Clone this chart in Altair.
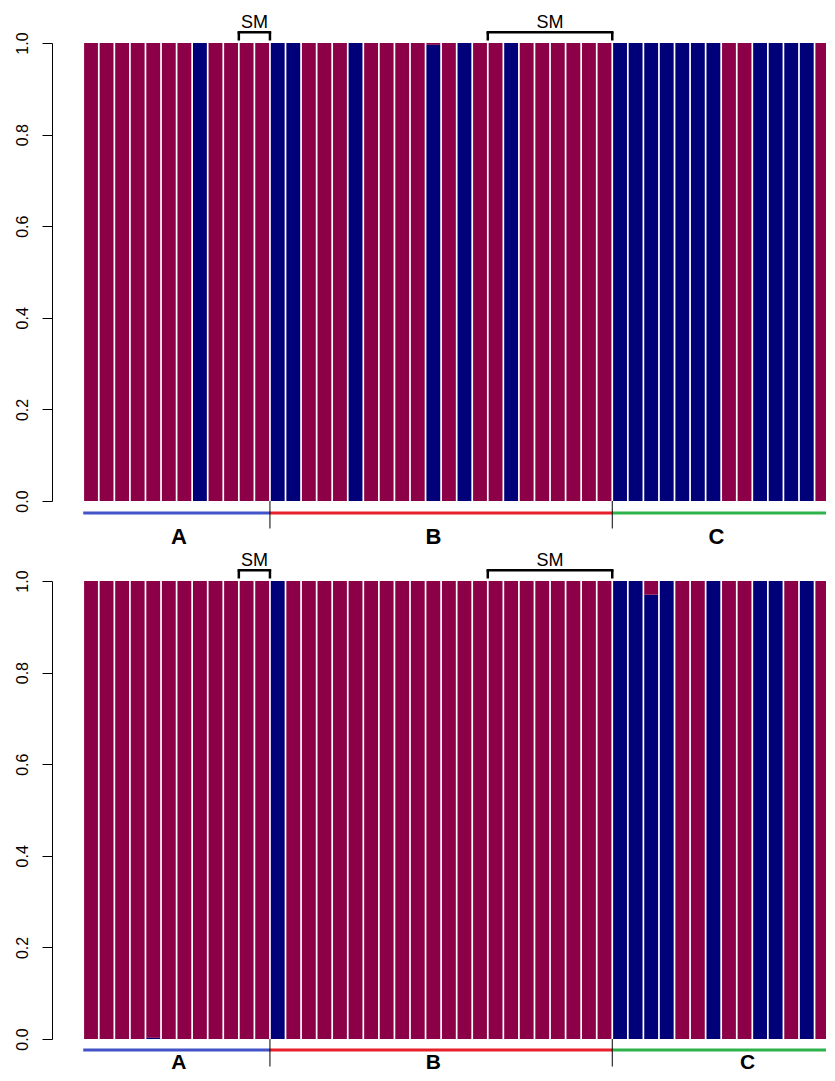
import altair as alt
import pandas as pd

# ---------------- data ----------------
# Fraction of the magenta cluster for each of the 49 visible samples (rest is navy)
top_magenta = [1, 1, 1, 1, 1, 1, 1, 0, 1, 1, 1, 1,                       # A (1-12)
               0, 0, 1, 1, 1, 0, 1, 1, 1, 1, 0.004, 1, 0, 1, 1, 0, 1, 1, 1, 1, 1, 1,  # B (13-34)
               0, 0, 0, 0, 0, 0, 0, 1, 1, 0, 0, 0, 0, 1, 1]              # C (35-49)
bottom_magenta = [1, 1, 1, 1, 0.997, 1, 1, 1, 1, 1, 1, 1,                 # A
                  0, 1, 1, 1, 1, 1, 1, 1, 1, 1, 1, 1, 1, 1, 1, 1, 1, 1, 1, 1, 1, 1,  # B
                  0, 0, 0.03, 0, 1, 1, 0, 1, 1, 0, 0, 1, 0, 1, 1]         # C

group_names = ["A", "B", "C"]
group_first = [1, 13, 35]
group_last = [12, 34, 49]
group_colors = ["#4353C8", "#E8202A", "#2DB34A"]
label_x_top = [6.65, 23.0, 41.2]
label_x_bottom = [6.65, 23.0, 43.2]

sm_first = [11, 27]
sm_last = [12, 34]
sm_text = ["SM", "SM"]

y_ticks = [0.0, 0.2, 0.4, 0.6, 0.8, 1.0]
cluster_names = ["navy", "magenta"]
cluster_colors = ["#000078", "#8B0046"]

# ---------------- layout constants ----------------
FONT = "Liberation Sans"
PITCH = 15.56
W = 774
XMIN = -1.507
XMAX = XMIN + W / PITCH
SM_H, BAR_H, GRP_H, GRP_H_LAST = 34.5, 458, 45, 34.5
xs = alt.Scale(domain=[XMIN, XMAX], nice=False, zero=False)


def bars_df(values):
    rows = []
    for i, m in enumerate(values, start=1):
        navy = 1 - m
        rows.append({"idx": i, "cluster": "navy", "y0": 0.0, "y1": navy})
        rows.append({"idx": i, "cluster": "magenta", "y0": navy, "y1": 1.0})
    return pd.DataFrame(rows)


def bars_row(values):
    return alt.Chart(bars_df(values)).transform_calculate(
        xl="datum.idx - 0.445", xr="datum.idx + 0.445"
    ).mark_rect(clip=True).encode(
        x=alt.X("xl:Q", scale=xs, axis=None),
        x2="xr:Q",
        y=alt.Y("y0:Q", scale=alt.Scale(domain=[0, 1], nice=False),
                axis=alt.Axis(values=y_ticks, format=".1f", labelAngle=270,
                              labelAlign="center", labelBaseline="alphabetic",
                              labelPadding=15, tickSize=10, tickColor="black",
                              domainColor="black", labelColor="black",
                              labelFontSize=16, labelFont=FONT, grid=False,
                              title=None, labelFlush=False, labelOverlap=False,
                              minExtent=40, maxExtent=40)),
        y2="y1:Q",
        color=alt.Color("cluster:N", scale=alt.Scale(domain=cluster_names, range=cluster_colors),
                        legend=None),
    ).properties(width=W, height=BAR_H)


def sm_row():
    df = pd.DataFrame({
        "s": [a - 0.5 for a in sm_first],
        "e": [b + 0.5 for b in sm_last],
        "label": sm_text,
    })
    df["m"] = (df["s"] + df["e"]) / 2
    base = alt.Chart(df)
    horiz = base.mark_rule(strokeWidth=2.5, color="black", strokeCap="square").encode(
        x=alt.X("s:Q", scale=xs, axis=None), x2="e:Q", y=alt.value(SM_H - 10.3))
    legs = base.transform_fold(["s", "e"], as_=["k", "xv"]).mark_rule(
        strokeWidth=2.5, color="black").encode(
        x=alt.X("xv:Q", scale=xs, axis=None), y=alt.value(SM_H - 10.3), y2=alt.value(SM_H - 2))
    txt = base.mark_text(font=FONT, fontSize=18, baseline="alphabetic", color="black").encode(
        x=alt.X("m:Q", scale=xs, axis=None), y=alt.value(SM_H - 14.3), text="label:N")
    return alt.layer(horiz, legs, txt).properties(width=W, height=SM_H)


def grp_row(label_x, height, line_y, label_y, label_size):
    df = pd.DataFrame({
        "name": group_names,
        "s": [a - 0.5 for a in group_first],
        "e": [b + 0.5 for b in group_last],
        "lx": label_x,
        "col": group_colors,
    })
    base = alt.Chart(df)
    lines = base.mark_rule(strokeWidth=3, clip=True).encode(
        x=alt.X("s:Q", scale=xs, axis=None), x2="e:Q", y=alt.value(line_y),
        color=alt.Color("col:N", scale=None, legend=None))
    seps = base.transform_filter("datum.name != 'C'").mark_rule(
        strokeWidth=1, color="black").encode(
        x=alt.X("e:Q", scale=xs, axis=None), y=alt.value(0), y2=alt.value(27.5))
    labels = base.mark_text(font=FONT, fontSize=label_size, fontWeight="bold",
                            baseline="alphabetic", color="black").encode(
        x=alt.X("lx:Q", scale=xs, axis=None), y=alt.value(label_y), text="name:N")
    return alt.layer(lines, seps, labels).properties(width=W, height=height)


chart = alt.vconcat(
    sm_row(), bars_row(top_magenta), grp_row(label_x_top, GRP_H, 12, 42.8, 22),
    sm_row(), bars_row(bottom_magenta), grp_row(label_x_bottom, GRP_H_LAST, 11, 29.6, 21),
    spacing=0,
).properties(
    bounds="flush",
    padding={"left": 4, "top": 0, "right": 0, "bottom": 0},
).configure(background="white").configure_view(strokeWidth=0, stroke="transparent")

chart.save("out.html", embed_options={"renderer": "svg", "actions": False})
